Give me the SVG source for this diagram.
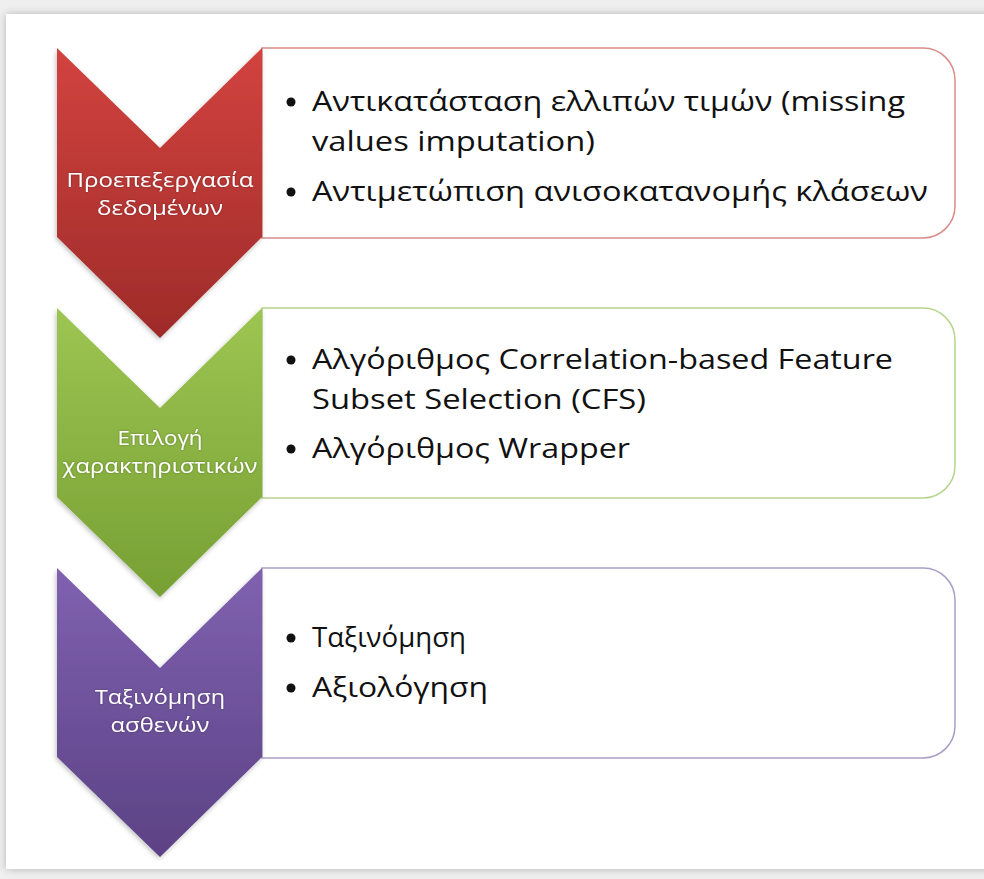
<svg xmlns="http://www.w3.org/2000/svg" width="984" height="879" viewBox="0 0 984 879">
  <defs>
    <linearGradient id="gRed" x1="0" y1="0" x2="0" y2="1">
      <stop offset="0" stop-color="#d2433f"/>
      <stop offset="1" stop-color="#9e2b29"/>
    </linearGradient>
    <linearGradient id="gGreen" x1="0" y1="0" x2="0" y2="1">
      <stop offset="0" stop-color="#9dc552"/>
      <stop offset="1" stop-color="#77a034"/>
    </linearGradient>
    <linearGradient id="gPurple" x1="0" y1="0" x2="0" y2="1">
      <stop offset="0" stop-color="#8061b0"/>
      <stop offset="1" stop-color="#5b4284"/>
    </linearGradient>
    <filter id="panelShadow" x="-5%" y="-5%" width="110%" height="110%">
      <feGaussianBlur in="SourceAlpha" stdDeviation="4"/>
      <feOffset dx="0" dy="0" result="b"/>
      <feComponentTransfer><feFuncA type="linear" slope="0.25"/></feComponentTransfer>
      <feMerge><feMergeNode/><feMergeNode in="SourceGraphic"/></feMerge>
    </filter>
    <filter id="chevShadow" x="-10%" y="-10%" width="120%" height="120%">
      <feGaussianBlur in="SourceAlpha" stdDeviation="2.5"/>
      <feOffset dx="-1" dy="2"/>
      <feComponentTransfer><feFuncA type="linear" slope="0.25"/></feComponentTransfer>
      <feMerge><feMergeNode/><feMergeNode in="SourceGraphic"/></feMerge>
    </filter>
    <filter id="glow" x="-10%" y="-30%" width="120%" height="160%">
      <feGaussianBlur in="SourceAlpha" stdDeviation="1.2"/>
      <feComponentTransfer><feFuncA type="linear" slope="0.35"/></feComponentTransfer>
      <feMerge><feMergeNode/><feMergeNode in="SourceGraphic"/></feMerge>
    </filter>
  </defs>
  <style>
    .label { font-family: "Open Sans", "Noto Sans", "DejaVu Sans", sans-serif; font-size: 19.5px; fill: #ffffff; text-anchor: middle; }
    .item { font-family: "Open Sans", "Noto Sans", "DejaVu Sans", sans-serif; font-size: 28px; fill: #111111; }
    .bullet { fill: #111111; }
    .box { fill: #ffffff; stroke-width: 1.5; }
  </style>

  <!-- page background and white panel -->
  <rect x="0" y="0" width="984" height="879" fill="#efefef"/>
  <rect x="6" y="14" width="1000" height="855" fill="#ffffff" filter="url(#panelShadow)"/>

  <!-- step 1: data preprocessing -->
  <g id="step-preprocessing">
    <path class="box" stroke="#d98c8a" d="M262,48 H923 A32,32 0 0 1 955,80 V206 A32,32 0 0 1 923,238 H262 Z"/>
    <polygon fill="url(#gRed)" filter="url(#chevShadow)" points="57,48 160,148 262,48 262,237 160,338 57,237"/>
    <g filter="url(#glow)">
      <text class="label" x="160" y="187" textLength="187" lengthAdjust="spacingAndGlyphs">Προεπεξεργασία</text>
      <text class="label" x="160" y="215" textLength="126" lengthAdjust="spacingAndGlyphs">δεδομένων</text>
    </g>
    <circle class="bullet" cx="291" cy="102" r="4.5"/>
    <text class="item" x="312" y="111" textLength="593" lengthAdjust="spacingAndGlyphs">Αντικατάσταση ελλιπών τιμών (missing</text>
    <text class="item" x="312" y="151" textLength="283" lengthAdjust="spacingAndGlyphs">values imputation)</text>
    <circle class="bullet" cx="291" cy="192" r="4.5"/>
    <text class="item" x="312" y="201" textLength="616" lengthAdjust="spacingAndGlyphs">Αντιμετώπιση ανισοκατανομής κλάσεων</text>
  </g>

  <!-- step 2: feature selection -->
  <g id="step-feature-selection">
    <path class="box" stroke="#b7d48c" d="M262,308 H923 A32,32 0 0 1 955,340 V466 A32,32 0 0 1 923,498 H262 Z"/>
    <polygon fill="url(#gGreen)" filter="url(#chevShadow)" points="57,308 160,408 262,308 262,497 160,597 57,497"/>
    <g filter="url(#glow)">
      <text class="label" x="160" y="445" textLength="85" lengthAdjust="spacingAndGlyphs">Επιλογή</text>
      <text class="label" x="160" y="473" textLength="195" lengthAdjust="spacingAndGlyphs">χαρακτηριστικών</text>
    </g>
    <circle class="bullet" cx="291" cy="360" r="4.5"/>
    <text class="item" x="312" y="369" textLength="581" lengthAdjust="spacingAndGlyphs">Αλγόριθμος Correlation-based Feature</text>
    <text class="item" x="312" y="409" textLength="334" lengthAdjust="spacingAndGlyphs">Subset Selection (CFS)</text>
    <circle class="bullet" cx="291" cy="449" r="4.5"/>
    <text class="item" x="312" y="458" textLength="318" lengthAdjust="spacingAndGlyphs">Αλγόριθμος Wrapper</text>
  </g>

  <!-- step 3: patient classification -->
  <g id="step-classification">
    <path class="box" stroke="#aa9ec4" d="M262,568 H923 A32,32 0 0 1 955,600 V726 A32,32 0 0 1 923,758 H262 Z"/>
    <polygon fill="url(#gPurple)" filter="url(#chevShadow)" points="57,568 160,668 262,568 262,757 160,857 57,757"/>
    <g filter="url(#glow)">
      <text class="label" x="160" y="704" textLength="130" lengthAdjust="spacingAndGlyphs">Ταξινόμηση</text>
      <text class="label" x="160" y="732" textLength="99" lengthAdjust="spacingAndGlyphs">ασθενών</text>
    </g>
    <circle class="bullet" cx="291" cy="638" r="4.5"/>
    <text class="item" x="312" y="647" textLength="154" lengthAdjust="spacingAndGlyphs">Ταξινόμηση</text>
    <circle class="bullet" cx="291" cy="688" r="4.5"/>
    <text class="item" x="312" y="697" textLength="176" lengthAdjust="spacingAndGlyphs">Αξιολόγηση</text>
  </g>

  <!-- no connectors: the chevrons themselves carry the flow -->
  <g id="connectors"/>
</svg>
